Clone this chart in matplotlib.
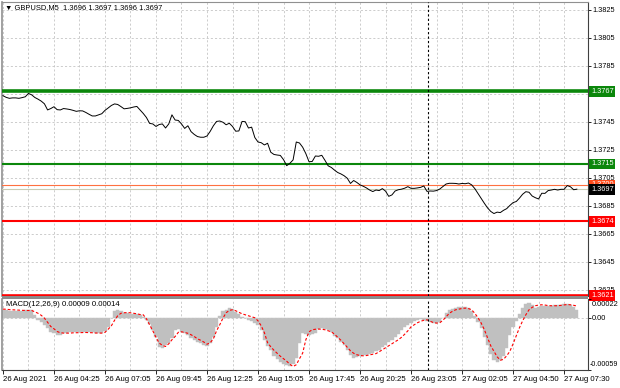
import numpy as np
import matplotlib
matplotlib.use("Agg")
import matplotlib.pyplot as plt
import matplotlib.transforms as mtransforms
from matplotlib.patches import Rectangle

plt.rcParams['font.family'] = ['Liberation Sans', 'DejaVu Sans']

# GBPUSD M5 closes (one value per 2 bars)
close = [
    1.37638, 1.37626, 1.37619, 1.37622, 1.37622, 1.37619, 1.37624, 1.37630, 1.37654, 1.37644,
    1.37625, 1.37613, 1.37599, 1.37580, 1.37536, 1.37546, 1.37559, 1.37538, 1.37536, 1.37546,
    1.37543, 1.37539, 1.37533, 1.37526, 1.37530, 1.37529, 1.37518, 1.37505, 1.37493, 1.37493,
    1.37501, 1.37509, 1.37533, 1.37550, 1.37568, 1.37579, 1.37575, 1.37560, 1.37544, 1.37547,
    1.37551, 1.37557, 1.37561, 1.37536, 1.37511, 1.37482, 1.37440, 1.37436, 1.37418, 1.37432,
    1.37436, 1.37407, 1.37436, 1.37501, 1.37464, 1.37461, 1.37436, 1.37404, 1.37423, 1.37381,
    1.37361, 1.37346, 1.37341, 1.37341, 1.37350, 1.37383, 1.37423, 1.37454, 1.37457, 1.37448,
    1.37430, 1.37441, 1.37418, 1.37384, 1.37386, 1.37454, 1.37452, 1.37407, 1.37413, 1.37339,
    1.37307, 1.37302, 1.37286, 1.37298, 1.37234, 1.37218, 1.37214, 1.37211, 1.37181, 1.37138,
    1.37155, 1.37179, 1.37307, 1.37300, 1.37270, 1.37224, 1.37166, 1.37168, 1.37207, 1.37205,
    1.37212, 1.37176, 1.37137, 1.37125, 1.37106, 1.37089, 1.37079, 1.37066, 1.37048, 1.37011,
    1.37032, 1.37018, 1.37001, 1.36991, 1.36979, 1.36964, 1.36953, 1.36964, 1.36960, 1.36974,
    1.36956, 1.36919, 1.36929, 1.36957, 1.36966, 1.36970, 1.36977, 1.36988, 1.36976, 1.36976,
    1.36979, 1.36983, 1.36993, 1.36954, 1.36957, 1.36956, 1.36960, 1.36971, 1.36989, 1.37007,
    1.37012, 1.37012, 1.37011, 1.37007, 1.37011, 1.37009, 1.37014, 1.37001, 1.36974, 1.36939,
    1.36904, 1.36869, 1.36836, 1.36811, 1.36796, 1.36806, 1.36803, 1.36819, 1.36831, 1.36854,
    1.36874, 1.36882, 1.36906, 1.36934, 1.36952, 1.36948, 1.36921, 1.36909, 1.36900, 1.36941,
    1.36940, 1.36960, 1.36964, 1.36969, 1.36964, 1.36969, 1.36969, 1.36996, 1.36987, 1.36966,
    1.36970,
]

# MACD histogram and signal, values in units of 1e-5
macd_e5 = [
    9.7, 9.4, 8.6, 8.0, 7.8, 8.0, 8.6, 8.9, 9.4, 9.7,
    4.0, -2.3, -4.6, -8.0, -11.4, -15.1, -16.9, -19.4, -19.4, -16.9,
    -16.5, -16.2, -16.2, -16.2, -16.2, -16.2, -15.4, -15.1, -16.0, -16.9,
    -16.9, -16.9, -14.3, -9.7, 0.6, 7.8, 9.7, 7.8, 6.3, 5.6,
    5.1, 5.1, 4.6, 3.4, 1.7, -1.7, -6.8, -13.1, -20.8, -32.2,
    -33.6, -30.8, -28.3, -22.2, -13.1, -12.5, -15.1, -16.9, -19.4, -22.8,
    -25.1, -26.5, -27.7, -30.2, -31.9, -28.3, -21.1, -9.4, 2.3, 7.8,
    9.7, 11.2, 10.8, 7.4, 4.6, 1.9, 0.0, -1.7, -2.9, -5.1,
    -8.0, -13.1, -24.5, -31.4, -36.5, -42.8, -46.2, -49.6, -51.9, -53.6,
    -55.0, -52.5, -45.0, -27.9, -16.5, -17.7, -18.8, -17.7, -16.5, -12.0,
    -10.8, -12.0, -13.1, -15.4, -20.0, -22.8, -26.8, -30.2, -35.9, -41.6,
    -45.0, -43.9, -43.3, -42.2, -41.6, -40.5, -39.3, -37.6, -35.9, -33.1,
    -30.2, -27.4, -24.5, -21.1, -17.7, -13.7, -9.7, -7.4, -5.5, -3.4,
    -2.3, -1.1, -1.5, -2.9, -4.6, -5.5, -5.5, -4.0, 0.6, 5.7,
    9.1, 10.8, 12.0, 12.5, 12.8, 12.8, 12.0, 8.6, 2.9, -4.0,
    -10.8, -21.1, -30.2, -40.5, -47.9, -50.2, -47.3, -42.8, -33.6, -18.8,
    -10.3, -2.9, 4.6, 12.0, 16.2, 17.1, 14.8, 12.0, 13.1, 13.7,
    13.9, 13.5, 14.3, 15.1, 15.4, 15.4, 16.0, 16.5, 15.4, 12.5,
    9.0,
]
signal_e5 = [
    10.5, 10.3, 9.9, 9.7, 9.5, 9.2, 9.0, 8.9, 8.9, 8.9,
    7.4, 5.7, 3.4, 0.2, -4.6, -9.4, -12.0, -15.1, -16.5, -16.9,
    -16.9, -16.9, -16.6, -16.5, -16.3, -16.2, -16.2, -16.3, -16.5, -16.8,
    -16.9, -16.9, -16.0, -12.5, -8.6, -2.3, 2.9, 5.7, 6.3, 6.5,
    6.3, 5.7, 5.1, 4.3, 4.0, -0.6, -7.4, -14.3, -21.7, -28.3,
    -30.8, -32.2, -29.1, -24.5, -20.8, -16.0, -15.4, -16.2, -17.1, -18.8,
    -20.8, -23.4, -25.1, -27.1, -29.6, -27.9, -23.4, -14.3, -7.4, 0.2,
    6.3, 9.1, 9.7, 8.6, 6.8, 5.1, 4.0, 2.9, 1.9, 0.6,
    -2.9, -8.6, -16.5, -27.9, -32.5, -36.5, -39.9, -43.3, -46.2, -49.0,
    -52.5, -55.0, -53.0, -46.2, -39.7, -24.5, -15.4, -13.1, -12.5, -12.3,
    -12.5, -13.1, -14.3, -15.4, -18.2, -21.7, -25.1, -29.1, -33.1, -37.1,
    -39.9, -41.6, -42.5, -42.8, -42.5, -41.8, -41.0, -40.3, -38.2, -35.9,
    -33.6, -31.4, -29.1, -26.8, -24.5, -21.7, -18.2, -14.3, -9.7, -7.4,
    -5.1, -3.4, -2.3, -1.7, -3.4, -4.9, -5.5, -5.1, -2.3, 1.7,
    5.7, 8.0, 9.7, 10.5, 11.2, 11.6, 11.1, 9.7, 5.7, 0.6,
    -5.5, -13.1, -22.2, -31.4, -37.6, -43.9, -47.9, -46.8, -42.8, -37.6,
    -29.1, -20.0, -10.8, -2.9, 4.0, 9.7, 12.5, 14.3, 15.1, 15.4,
    15.1, 14.5, 14.3, 14.3, 14.3, 14.8, 15.4, 15.7, 15.4, 14.8,
    14.0,
]

time_labels = ["26 Aug 2021", "26 Aug 04:25", "26 Aug 07:05", "26 Aug 09:45",
               "26 Aug 12:25", "26 Aug 15:05", "26 Aug 17:45", "26 Aug 20:25",
               "26 Aug 23:05", "27 Aug 02:05", "27 Aug 04:50", "27 Aug 07:30"]
label_step = 16
price_ticks = [1.3625, 1.3645, 1.3665, 1.3685, 1.3705, 1.3725,
               1.3745, 1.3765, 1.3785, 1.3805, 1.3825]
macd_max, macd_min = 0.00022, -0.00059
marker_bar = 133.3

# horizontal levels: price, colour, line width, label box colour
levels = [
    (1.3767, "#0b870b", 2.6, "#0b870b"),
    (1.3715, "#0b870b", 1.5, "#0b870b"),
    (1.3700, "#ff7040", 0.8, "#ff4a1a"),
    (1.3697, "#c8ccb4", 0.8, "#000000"),
    (1.3674, "#ff0000", 1.5, "#ff0000"),
    (1.3621, "#ff0000", 2.6, "#ff0000"),
]

W, H = 620, 388
fs = 5.6      # bottom time labels
fs_r = 5.3    # right price scale
grid_kw = dict(color="#c4c4c4", lw=0.6, linestyle=(0, (2.5, 2.5)))


def px_box(x0, y0, x1, y1):
    return [x0 / W, 1 - y1 / H, (x1 - x0) / W, (y1 - y0) / H]


fig = plt.figure(figsize=(W / 100, H / 100), dpi=100)
ax = fig.add_axes(px_box(2, 2, 588, 296))
ax2 = fig.add_axes(px_box(2, 299, 588, 370), sharex=ax)

x = np.arange(len(close))
ax.plot(x, close, color="black", lw=0.7, zorder=4)

for price, col, lw, _ in levels:
    ax.axhline(price, color=col, lw=lw, zorder=3)

ax.set_ylim(1.36207, 1.38307)
ax.set_xlim(-0.3, 183.5)
ax.set_yticks(price_ticks)
ax.set_yticklabels([f"{p:.4f}" for p in price_ticks])
ax.yaxis.tick_right()
ax.tick_params(axis="y", length=2, width=0.6, pad=1.2, labelsize=fs_r)
ax.set_xticks(np.arange(0, 184, label_step))
ax.set_xticks(np.arange(8, 184, label_step), minor=True)
ax.tick_params(axis="x", which="both", length=0, labelbottom=False)
ax.grid(True, which="both", **grid_kw)
ax.axvline(marker_bar, color="black", lw=0.8, linestyle=(0, (2, 2)), zorder=5)

# coloured price boxes on the right scale
trans = mtransforms.blended_transform_factory(ax.transAxes, ax.transData)
for price, _, _, box in levels:
    ax.text(1.0 + 3 / 586, price, f"{price:.4f}", transform=trans, ha="left",
            va="center", fontsize=fs_r, color="white", zorder=10, clip_on=False,
            bbox=dict(boxstyle="square,pad=0.25", fc=box, ec="none"))

# MACD window
macd = np.array(macd_e5) * 1e-5
signal = np.array(signal_e5) * 1e-5
ax2.bar(x, macd, width=1.0, color="#c0c0c0", ec="#c0c0c0", lw=0.3, zorder=2)
ax2.plot(x, signal, color="#ff0000", lw=0.8, linestyle=(0, (2.5, 1.8)), zorder=4)
ax2.axhline(0, **grid_kw)
ax2.axvline(marker_bar, color="black", lw=0.8, linestyle=(0, (2, 2)), zorder=5)
ax2.set_ylim(macd_min, macd_max)
ax2.yaxis.tick_right()
ax2.set_yticks([macd_max, 0.0, macd_min])
ax2.tick_params(axis="y", length=2, width=0.6, labelright=False)

# MACD scale labels (max/min sit just inside the window like the terminal does)
tx = 1.0 + 3.5 / 586
ax2.text(tx, 1 - 2 / 71, f"{macd_max:.5f}", transform=ax2.transAxes, ha="left",
         va="top", fontsize=fs_r, clip_on=False, zorder=12)
t2 = mtransforms.blended_transform_factory(ax2.transAxes, ax2.transData)
ax2.text(tx, 0.0, "0.00", transform=t2, ha="left", va="center",
         fontsize=fs_r, clip_on=False)
ax2.text(1.0 + 2 / 586, 1.5 / 71, f"{macd_min:.5f}", transform=ax2.transAxes,
         ha="left", va="bottom", fontsize=5.1, clip_on=False)

ax2.set_xticks(np.arange(0, 184, label_step)[:len(time_labels)])
ax2.set_xticklabels(time_labels)
ax2.tick_params(axis="x", which="major", length=3, width=0.6, pad=1, labelsize=fs)
ax2.tick_params(axis="x", which="minor", length=0)
ax2.tick_params(axis="x", labelbottom=True)
for lbl in ax2.get_xticklabels():
    lbl.set_ha("left")
ax2.grid(True, which="both", axis="x", **grid_kw)
ax2.text(4 / 586, 1 - 2 / 71, "MACD(12,26,9) 0.00009 0.00014", transform=ax2.transAxes,
         ha="left", va="top", fontsize=fs, zorder=6)

for a in (ax, ax2):
    a.spines["left"].set_color("#909090")
    a.spines["left"].set_linewidth(1.2)
    a.spines["right"].set_color("#404040")
    a.spines["right"].set_linewidth(0.8)
ax.spines["top"].set_color("#909090")
ax.spines["bottom"].set_visible(False)
ax2.spines["top"].set_visible(False)
ax2.spines["bottom"].set_color("#404040")
ax2.spines["bottom"].set_linewidth(0.8)

# window separator
fig.add_artist(Rectangle((2 / W, 1 - 299 / H), 586 / W, 3 / H,
                         transform=fig.transFigure, color="#8c8c8c", lw=0))

fig.text(5 / W, 1 - 8 / H, "\u25bc GBPUSD,M5  1.3696 1.3697 1.3696 1.3697",
         ha="left", va="center", fontsize=5.4)

fig.savefig("out.png", dpi=100)
